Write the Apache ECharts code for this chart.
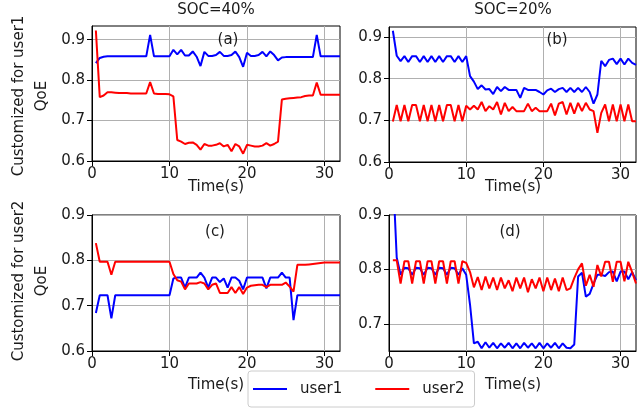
<!DOCTYPE html>
<html>
<head>
<meta charset="utf-8">
<script src="https://cdn.jsdelivr.net/npm/echarts@6/dist/echarts.min.js"></script>
<style>
  html, body { margin: 0; padding: 0; background: #fff; }
  #chart { width: 644px; height: 411px; }
</style>
</head>
<body>
<div id="chart"></div>
<script>
// time axis (s), one sample every 0.5 s
let time = [0.5, 1, 1.5, 2, 2.5, 3, 3.5, 4, 4.5, 5, 5.5, 6, 6.5, 7, 7.5, 8,
            8.5, 9, 9.5, 10, 10.5, 11, 11.5, 12, 12.5, 13, 13.5, 14, 14.5, 15, 15.5, 16,
            16.5, 17, 17.5, 18, 18.5, 19, 19.5, 20, 20.5, 21, 21.5, 22, 22.5, 23, 23.5, 24,
            24.5, 25, 25.5, 26, 26.5, 27, 27.5, 28, 28.5, 29, 29.5, 30, 30.5, 31, 31.5, 32];

// (a) customized for user1, SOC=40%
let aUser1 = [0.842, 0.855, 0.858, 0.859, 0.859, 0.859, 0.859, 0.859, 0.859, 0.859, 0.859, 0.859, 0.859, 0.859, 0.912, 0.859,
              0.859, 0.859, 0.859, 0.859, 0.875, 0.864, 0.875, 0.861, 0.861, 0.871, 0.858, 0.835, 0.870, 0.860, 0.860, 0.862,
              0.870, 0.860, 0.860, 0.862, 0.871, 0.857, 0.833, 0.868, 0.860, 0.860, 0.862, 0.870, 0.859, 0.871, 0.862, 0.849,
              0.856, 0.857, 0.857, 0.857, 0.857, 0.857, 0.857, 0.857, 0.857, 0.912, 0.859, 0.859, 0.859, 0.859, 0.859, 0.859];
let aUser2 = [0.923, 0.758, 0.762, 0.770, 0.770, 0.769, 0.768, 0.768, 0.768, 0.767, 0.767, 0.767, 0.767, 0.767, 0.795, 0.767,
              0.766, 0.766, 0.766, 0.765, 0.760, 0.652, 0.648, 0.642, 0.645, 0.646, 0.640, 0.628, 0.642, 0.638, 0.638, 0.640,
              0.644, 0.636, 0.640, 0.624, 0.642, 0.636, 0.618, 0.640, 0.638, 0.636, 0.636, 0.638, 0.644, 0.638, 0.642, 0.648,
              0.752, 0.754, 0.755, 0.756, 0.757, 0.758, 0.761, 0.762, 0.762, 0.794, 0.764, 0.764, 0.764, 0.764, 0.764, 0.764];

// (b) customized for user1, SOC=20%
let bUser1 = [0.915, 0.855, 0.842, 0.854, 0.840, 0.854, 0.854, 0.840, 0.854, 0.840, 0.854, 0.840, 0.854, 0.840, 0.854, 0.854,
              0.840, 0.854, 0.840, 0.854, 0.806, 0.793, 0.775, 0.784, 0.774, 0.775, 0.763, 0.780, 0.770, 0.780, 0.773, 0.773,
              0.773, 0.754, 0.778, 0.773, 0.773, 0.773, 0.768, 0.762, 0.772, 0.776, 0.768, 0.775, 0.778, 0.768, 0.778, 0.768,
              0.778, 0.768, 0.780, 0.768, 0.740, 0.762, 0.843, 0.830, 0.845, 0.848, 0.835, 0.848, 0.834, 0.848, 0.838, 0.833];
let bUser2 = [0.697, 0.737, 0.698, 0.737, 0.698, 0.737, 0.737, 0.698, 0.737, 0.698, 0.737, 0.698, 0.737, 0.698, 0.737, 0.737,
              0.698, 0.737, 0.698, 0.735, 0.726, 0.735, 0.726, 0.744, 0.722, 0.734, 0.726, 0.744, 0.714, 0.742, 0.722, 0.732,
              0.722, 0.722, 0.722, 0.740, 0.722, 0.730, 0.722, 0.722, 0.722, 0.740, 0.712, 0.740, 0.744, 0.714, 0.742, 0.716,
              0.742, 0.722, 0.742, 0.726, 0.722, 0.670, 0.718, 0.738, 0.698, 0.738, 0.698, 0.738, 0.698, 0.738, 0.698, 0.698];

// (c) customized for user2, SOC=40%
let cUser1 = [0.684, 0.723, 0.723, 0.723, 0.672, 0.723, 0.723, 0.723, 0.723, 0.723, 0.723, 0.723, 0.723, 0.723, 0.723, 0.723,
              0.723, 0.723, 0.723, 0.723, 0.760, 0.762, 0.762, 0.740, 0.762, 0.762, 0.762, 0.773, 0.762, 0.740, 0.762, 0.762,
              0.752, 0.760, 0.740, 0.762, 0.762, 0.755, 0.736, 0.762, 0.762, 0.762, 0.762, 0.762, 0.738, 0.762, 0.762, 0.762,
              0.773, 0.762, 0.762, 0.668, 0.723, 0.723, 0.723, 0.723, 0.723, 0.723, 0.723, 0.723, 0.723, 0.723, 0.723, 0.723];
let cUser2 = [0.838, 0.797, 0.797, 0.797, 0.768, 0.797, 0.797, 0.797, 0.797, 0.797, 0.797, 0.797, 0.797, 0.797, 0.797, 0.797,
              0.797, 0.797, 0.797, 0.797, 0.770, 0.756, 0.753, 0.736, 0.749, 0.749, 0.749, 0.752, 0.749, 0.736, 0.746, 0.749,
              0.728, 0.728, 0.728, 0.741, 0.728, 0.741, 0.726, 0.740, 0.744, 0.745, 0.746, 0.746, 0.741, 0.746, 0.746, 0.746,
              0.746, 0.751, 0.742, 0.731, 0.790, 0.790, 0.790, 0.791, 0.792, 0.793, 0.794, 0.795, 0.795, 0.795, 0.795, 0.795];

// (d) customized for user2, SOC=20%
let dUser1 = [0.980, 0.822, 0.790, 0.803, 0.802, 0.790, 0.803, 0.802, 0.790, 0.803, 0.802, 0.790, 0.803, 0.802, 0.790, 0.803,
              0.802, 0.790, 0.802, 0.790, 0.735, 0.664, 0.667, 0.655, 0.666, 0.656, 0.665, 0.655, 0.664, 0.656, 0.665, 0.655,
              0.664, 0.655, 0.665, 0.656, 0.664, 0.655, 0.665, 0.655, 0.664, 0.656, 0.665, 0.655, 0.664, 0.656, 0.655, 0.662,
              0.787, 0.794, 0.750, 0.755, 0.774, 0.790, 0.790, 0.788, 0.795, 0.796, 0.778, 0.796, 0.796, 0.782, 0.795, 0.780];
let dUser2 = [0.817, 0.817, 0.774, 0.815, 0.815, 0.774, 0.815, 0.815, 0.774, 0.815, 0.815, 0.774, 0.815, 0.815, 0.774, 0.815,
              0.815, 0.774, 0.815, 0.812, 0.795, 0.767, 0.786, 0.762, 0.787, 0.765, 0.785, 0.762, 0.785, 0.765, 0.780, 0.760,
              0.785, 0.765, 0.785, 0.758, 0.782, 0.765, 0.785, 0.760, 0.785, 0.762, 0.783, 0.760, 0.785, 0.762, 0.765, 0.784,
              0.800, 0.811, 0.770, 0.790, 0.768, 0.808, 0.787, 0.814, 0.814, 0.777, 0.814, 0.814, 0.778, 0.814, 0.795, 0.774];

let xTicks = [0, 10, 20, 30];
let yTicksTop = [0.6, 0.7, 0.8, 0.9];
let yTicksD = [0.7, 0.8, 0.9];

let panels = [
    { grid: { left: 92, top: 26, width: 248, height: 135 }, yMin: 0.6, yMax: 0.934, yTicks: yTicksTop, u1: aUser1, u2: aUser2 },
    { grid: { left: 389, top: 27, width: 247, height: 135 }, yMin: 0.6, yMax: 0.924, yTicks: yTicksTop, u1: bUser1, u2: bUser2 },
    { grid: { left: 92, top: 215, width: 248, height: 136 }, yMin: 0.6, yMax: 0.9, yTicks: yTicksTop, u1: cUser1, u2: cUser2 },
    { grid: { left: 389, top: 215, width: 247, height: 136 }, yMin: 0.65, yMax: 0.9, yTicks: yTicksD, u1: dUser1, u2: dUser2 }
];

const FONT = 'DejaVu Sans';
const TXT = '#1a1a1a';

let zip = function (vals) {
    return time.map(function (t, i) { return [t, vals[i]]; });
};

let grids = [], xAxes = [], yAxes = [], series = [];
panels.forEach(function (p, i) {
    grids.push(Object.assign({ show: true, borderColor: '#000', borderWidth: 1, backgroundColor: '#fff' }, p.grid));
    xAxes.push({
        type: 'value', gridIndex: i, min: 0, max: 32, interval: 10,
        axisLine: { show: true, onZero: false, lineStyle: { color: '#000', width: 1 } },
        axisTick: { show: true, length: 5, lineStyle: { color: '#000' }, customValues: xTicks },
        axisLabel: {
            customValues: xTicks, color: TXT, fontFamily: FONT, fontSize: 15, margin: 6,
            formatter: function (v) { return v % 10 === 0 ? String(v) : ''; }
        },
        splitLine: { show: true, lineStyle: { color: '#b0b0b0', width: 1 } }
    });
    yAxes.push({
        type: 'value', gridIndex: i, min: p.yMin, max: p.yMax, splitNumber: 3,
        minInterval: 0.1, maxInterval: 0.1,
        axisLine: { show: true, onZero: false, lineStyle: { color: '#000', width: 1 } },
        axisTick: { show: true, length: 5, lineStyle: { color: '#000' }, customValues: p.yTicks },
        axisLabel: {
            customValues: p.yTicks, color: TXT, fontFamily: FONT, fontSize: 15, margin: 7,
            formatter: function (v) {
                return Math.abs(v * 10 - Math.round(v * 10)) < 1e-6 ? v.toFixed(1) : '';
            }
        },
        splitLine: { show: true, lineStyle: { color: '#b0b0b0', width: 1 } }
    });
    series.push({
        name: 'user1', type: 'line', xAxisIndex: i, yAxisIndex: i, data: zip(p.u1),
        symbol: 'none', clip: true, lineStyle: { color: '#0000ff', width: 2 }, itemStyle: { color: '#0000ff' }
    });
    series.push({
        name: 'user2', type: 'line', xAxisIndex: i, yAxisIndex: i, data: zip(p.u2),
        symbol: 'none', clip: true, lineStyle: { color: '#ff0000', width: 2 }, itemStyle: { color: '#ff0000' }
    });
});

let label = function (text, x, y, extra) {
    return Object.assign({
        type: 'text', x: x, y: y, silent: true, z: 100,
        style: { text: text, fill: TXT, font: '15px "' + FONT + '"', align: 'center', verticalAlign: 'middle', lineHeight: 23 }
    }, extra || {});
};

let texts = [
    label('SOC=40%', 216, 10),
    label('SOC=20%', 513, 10),
    label('(a)', 228, 40),
    label('(b)', 557, 40),
    label('(c)', 215, 232),
    label('(d)', 510, 232),
    label('Time(s)', 216, 187),
    label('Time(s)', 513, 187),
    label('Time(s)', 216, 385),
    label('Time(s)', 513, 385),
    label('Customized for user1\nQoE', 31, 96, { rotation: Math.PI / 2 }),
    label('Customized for user2\nQoE', 31, 281, { rotation: Math.PI / 2 })
];

let chart = echarts.init(document.getElementById('chart'), null, { renderer: 'canvas' });
chart.setOption({
    backgroundColor: '#fff',
    animation: false,
    grid: grids,
    xAxis: xAxes,
    yAxis: yAxes,
    series: series,
    legend: {
        data: ['user1', 'user2'],
        icon: 'rect',
        left: 248, top: 371,
        itemWidth: 34, itemHeight: 2, itemGap: 33,
        padding: [10, 10, 10, 5],
        borderColor: '#cccccc', borderWidth: 1, borderRadius: 3,
        backgroundColor: '#fff',
        textStyle: { color: TXT, fontFamily: FONT, fontSize: 15, padding: [0, 0, 0, 8], lineHeight: 16 },
        z: 200
    },
    graphic: texts
});
</script>
</body>
</html>
